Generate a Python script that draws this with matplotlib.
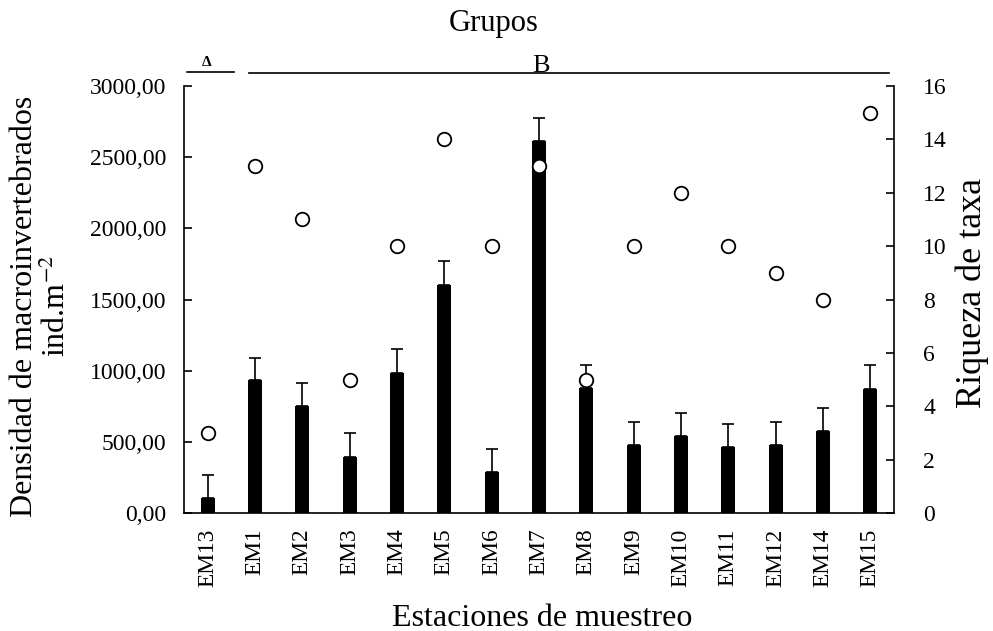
import numpy as np
import matplotlib
matplotlib.use("Agg")
import matplotlib.pyplot as plt

plt.rcParams['font.family'] = ['Liberation Serif', 'DejaVu Serif']
plt.rcParams['mathtext.fontset'] = 'stix'

#station names and values
estaciones = ["EM13", "EM1", "EM2", "EM3", "EM4", "EM5", "EM6", "EM7",
              "EM8", "EM9", "EM10", "EM11", "EM12", "EM14", "EM15"]
densidad = [107, 932, 752, 396, 986, 1605, 286, 2614,
            876, 475, 541, 464, 475, 576, 873]
densidad_sup = [267, 1090, 913, 560, 1150, 1770, 447, 2773,
                1038, 639, 705, 628, 639, 738, 1038]
riqueza = [3, 13, 11, 5, 10, 14, 10, 13, 5, 10, 12, 10, 9, 8, 15]
yticks_izq = [0, 500, 1000, 1500, 2000, 2500, 3000]
yticks_der = [0, 2, 4, 6, 8, 10, 12, 14, 16]

x = np.arange(len(estaciones))
err = np.array(densidad_sup) - np.array(densidad)

W, H = 993, 631
fig = plt.figure(figsize=(W/100, H/100), dpi=100)
ax = fig.add_axes([184/W, 1-513/H, 710/W, 427/H])

ax.bar(x, densidad, width=0.3, color='black', zorder=2)
ax.errorbar(x, densidad, yerr=[np.zeros(len(x)), err], fmt='none',
            ecolor='black', elinewidth=1.2, capsize=4.5, capthick=1.2, zorder=2)
ax.set_xlim(-0.5, len(x) - 0.5)
ax.set_ylim(0, 3000)
ax.set_yticks(yticks_izq)
ax.set_yticklabels([("%.2f" % v).replace('.', ',') for v in yticks_izq])
ax.set_xticks(x)
ax.set_xticklabels(estaciones, rotation=90)
ax.tick_params(axis='x', length=0, labelsize=16.8, pad=11)
ax.tick_params(axis='y', direction='in', length=6, width=1.2, labelsize=17, pad=13)
ax.spines['top'].set_visible(False)
ax.spines['right'].set_visible(False)
for s in ['left', 'bottom']:
    ax.spines[s].set_linewidth(1.2)

ax2 = ax.twinx()
ax2.scatter(x, riqueza, s=95, facecolor='white', edgecolor='black',
            linewidth=1.3, zorder=3)
ax2.set_ylim(0, 16)
ax2.set_yticks(yticks_der)
ax2.tick_params(axis='y', direction='in', length=6, width=1.2, labelsize=17, pad=21)
ax2.spines['top'].set_visible(False)
ax2.spines['left'].set_visible(False)
ax2.spines['bottom'].set_visible(False)
ax2.spines['right'].set_linewidth(1.2)

#axis titles
fig.text(41/W, 1-306/H, "Densidad de macroinvertebrados\nind.m$^{-2}$",
         rotation=90, ha='center', va='center', fontsize=23,
         linespacing=1.1, multialignment='center')
fig.text(972/W, 1-293/H, "Riqueza de taxa", rotation=90, ha='center',
         va='center', fontsize=26)
fig.text(542/W, 1-618/H, "Estaciones de muestreo", ha='center', va='center',
         fontsize=23)

#group lines above the plot
fig.add_artist(plt.Line2D([186.7/W, 234/W], [1-71.7/H, 1-71.7/H],
                          color='black', lw=1.2))
fig.add_artist(plt.Line2D([249/W, 889/W], [1-73/H, 1-73/H],
                          color='black', lw=1.2))
fig.text(207/W, 1-63/H, "Δ", ha='center', va='center', fontsize=11,
         fontweight='bold')
fig.text(541/W, 1-66/H, "B", ha='center', va='center', fontsize=19)
fig.text(494/W, 1-24/H, "Grupos", ha='center', va='center', fontsize=22)

fig.savefig("out.png", dpi=100)
